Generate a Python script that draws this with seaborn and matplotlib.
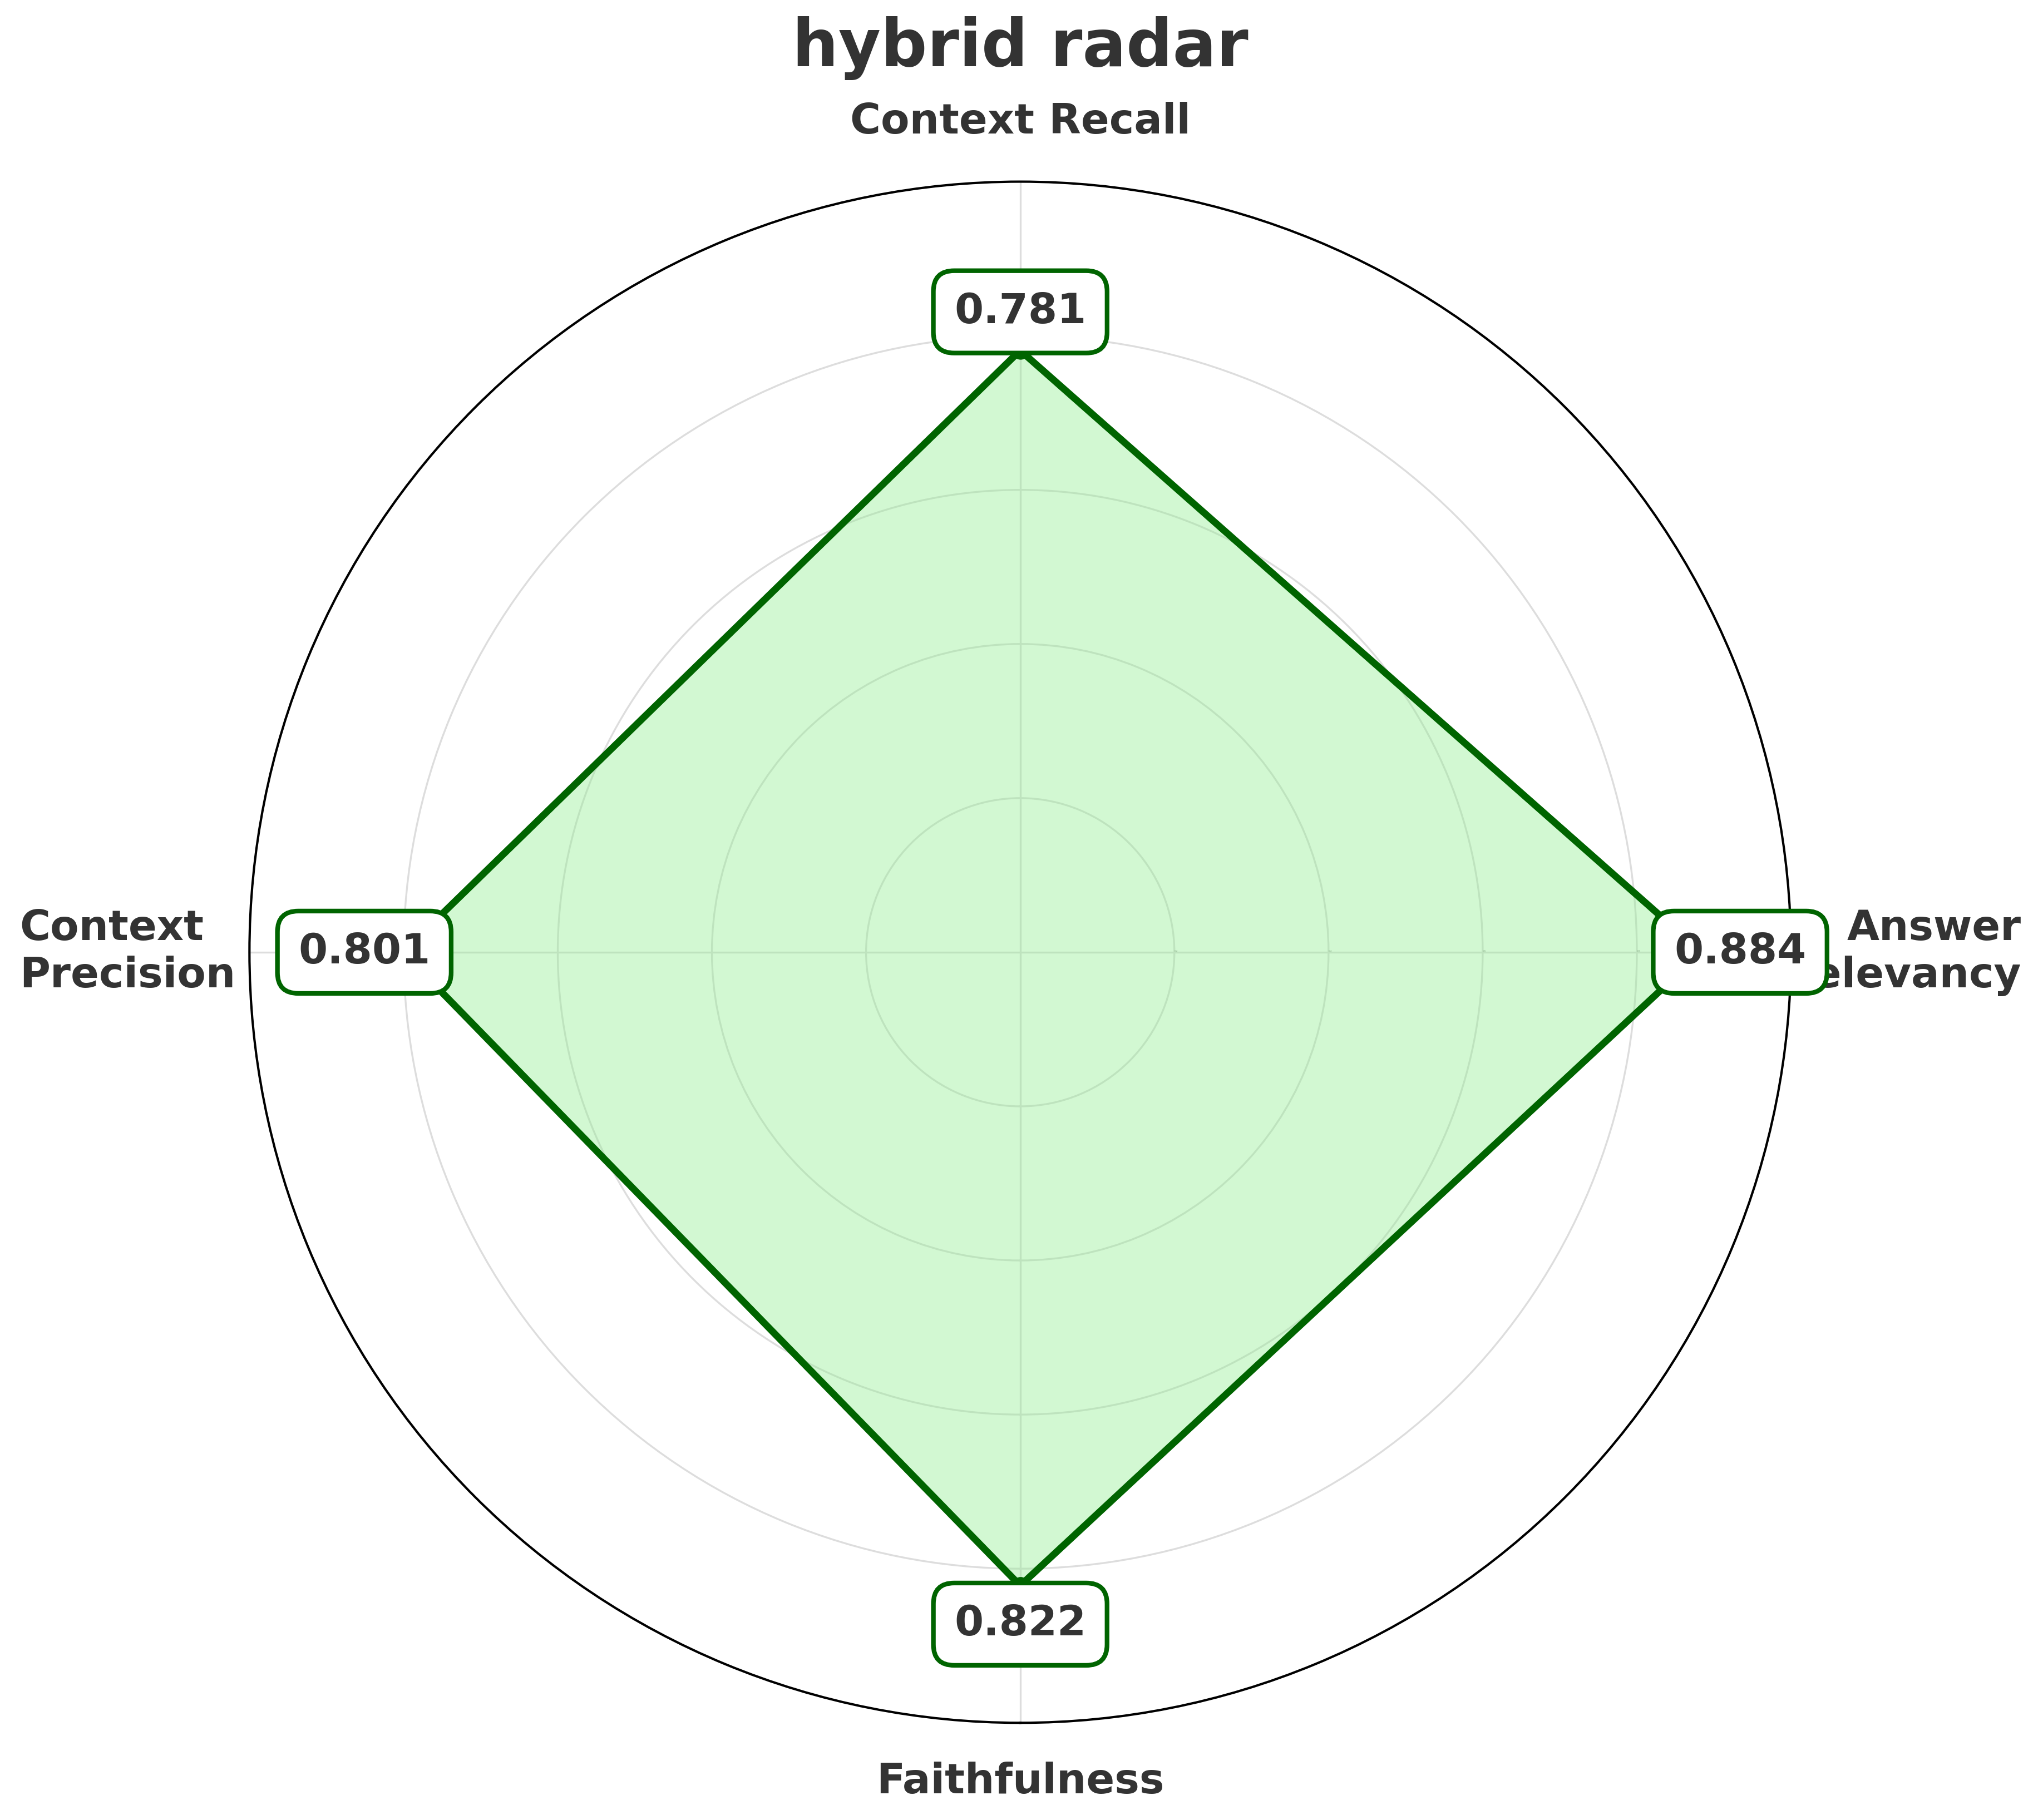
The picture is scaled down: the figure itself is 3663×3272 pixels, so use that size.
import numpy as np
import matplotlib
matplotlib.use("Agg")
import matplotlib.pyplot as plt
import seaborn as sns

# metric names and scores
metrics = ["Faithfulness", "Answer\nRelevancy", "Context Recall", "Context\nPrecision"]
scores = [0.822, 0.884, 0.781, 0.801]
rings = [0.2, 0.4, 0.6, 0.8]

sns.set_theme(style="white")
plt.rcParams["font.family"] = ["DejaVu Sans"]

text_col = "#333333"
line_col = "darkgreen"

fig = plt.figure(figsize=(3663 / 300, 3272 / 300), dpi=300)
ax = fig.add_axes([0.1224, 0.0534, 0.7564, 0.8468], projection="polar")
ax.set_theta_offset(-np.pi / 2)

angles = np.linspace(0, 2 * np.pi, len(metrics), endpoint=False)
closed_a = np.append(angles, angles[0])
closed_v = scores + scores[:1]

# filled polygon + outline
ax.fill(closed_a, closed_v, color="lightgreen", alpha=0.4, zorder=2)
sns.lineplot(x=closed_a, y=closed_v, sort=False, estimator=None, ax=ax,
             color=line_col, linewidth=3, marker="o", markersize=7,
             markeredgecolor=line_col, zorder=3)

ax.set_ylim(0, 1)
ax.set_xticks(angles)
ax.set_xticklabels([])
ax.set_yticks(rings)
ax.set_yticklabels([f"{r:.1f}" for r in rings], fontsize=1, color="grey")
ax.set_rlabel_position(90)
ax.grid(True, color="#dddddd", linewidth=0.8)
ax.spines["polar"].set_color("black")
ax.spines["polar"].set_linewidth(1.0)
ax.set_xlabel("")
ax.set_ylabel("")

# category labels round the outside
for a, name in zip(angles, metrics):
    disp = a - np.pi / 2
    c = np.cos(disp)
    if c > 0.5:
        ax.text(a, 1.2985, name, ha="right", va="center", multialignment="right",
                fontsize=18, fontweight="bold", color=text_col, zorder=4, clip_on=False)
    elif c < -0.5:
        ax.text(a, 1.2985, name, ha="left", va="center", multialignment="left",
                fontsize=18, fontweight="bold", color=text_col, zorder=4, clip_on=False)
    else:
        ax.text(a, 1.077, name, ha="center", va="center",
                fontsize=18, fontweight="bold", color=text_col, zorder=4, clip_on=False)

# value boxes just outside each point
for a, v in zip(angles, scores):
    ax.text(a, v + 0.05, f"{v:.3f}", ha="center", va="center",
            fontsize=18, fontweight="bold", color=text_col, zorder=6, clip_on=False,
            bbox=dict(boxstyle="round,pad=0.5", facecolor="white",
                      edgecolor=line_col, linewidth=2))

fig.text(0.5006, 1 - 86.6 / 3272, "hybrid radar", ha="center", va="center",
         fontsize=28, fontweight="bold", color=text_col)

fig.savefig("out.png", dpi=300)
